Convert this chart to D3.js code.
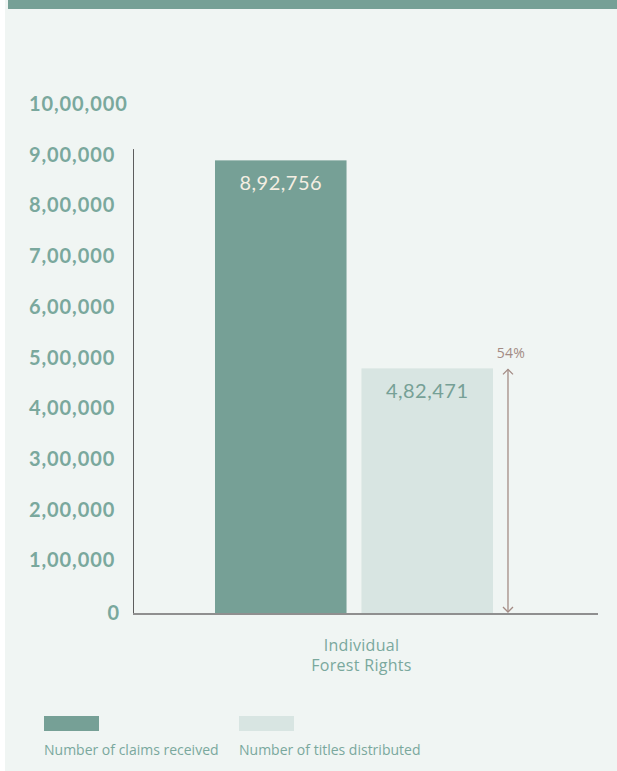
<!DOCTYPE html>
<html>
<head>
<meta charset="utf-8">
<script src="https://cdn.jsdelivr.net/npm/d3@7"></script>
<style>
  html, body { margin: 0; padding: 0; background: #ffffff; }
  svg { display: block; }
  text { font-family: "Lato", "Open Sans", sans-serif; }
  .os { font-family: "Open Sans", "Lato", sans-serif; }
</style>
</head>
<body>
<svg id="chart" width="617" height="771"></svg>
<script>
// Forest rights claims vs. titles
const categories = ["Individual Forest Rights"];
const categoryLines = [["Individual", "Forest Rights"]];
const series = ["Number of claims received", "Number of titles distributed"];
const claimsReceived = [892756];
const titlesDistributed = [482471];
const shareLabels = ["54%"];
const tickValues = [0, 100000, 200000, 300000, 400000, 500000, 600000, 700000, 800000, 900000, 1000000];
const tickLabels = ["0", "1,00,000", "2,00,000", "3,00,000", "4,00,000", "5,00,000", "6,00,000", "7,00,000", "8,00,000", "9,00,000", "10,00,000"];
const valueLabels = [["8,92,756"], ["4,82,471"]];

const colors = ["#76a096", "#d8e5e2"];
const valueColors = ["#f4eee2", "#76a096"];
const tickColor = "#7aa89d";
const arrowColor = "#a38b84";

const svg = d3.select("#chart");

// card background and top band
svg.append("rect").attr("x", 5).attr("y", 0).attr("width", 612).attr("height", 771).attr("fill", "#f0f5f3");
svg.append("rect").attr("x", 8).attr("y", 0).attr("width", 609).attr("height", 9).attr("fill", "#76a096");

const y = d3.scaleLinear().domain([0, 1000000]).range([613, 106]);

const x0 = d3.scaleBand().domain(categories).range([133, 575]).paddingInner(0).paddingOuter(0.295);
const x1 = d3.scaleBand().domain(series).range([0, x0.bandwidth()]).paddingInner(0.102).paddingOuter(0);

const axisX = d3.scaleBand().domain(categories).range([133, 598]);

// y tick labels
const tickG = svg.append("g");
tickG.selectAll("text")
  .data(tickValues)
  .join("text")
  .attr("x", (d, i) => i === 0 ? 120 : 29)
  .attr("y", d => y(d) - (d === 0 ? 0 : 2))
  .attr("dy", "0.35em")
  .attr("text-anchor", (d, i) => i === 0 ? "end" : "start")
  .attr("fill", tickColor)
  .attr("font-weight", 700)
  .attr("font-size", 20)
  .attr("letter-spacing", 0.9)
  .text((d, i) => tickLabels[i]);

// bars
const rows = categories.map((c, i) => ({
  category: c,
  values: [
    { key: series[0], value: claimsReceived[i], label: valueLabels[0][i], idx: 0 },
    { key: series[1], value: titlesDistributed[i], label: valueLabels[1][i], idx: 1 }
  ],
  share: shareLabels[i]
}));

const groups = svg.append("g").selectAll("g")
  .data(rows)
  .join("g")
  .attr("transform", d => `translate(${x0(d.category)},0)`);

groups.selectAll("rect")
  .data(d => d.values)
  .join("rect")
  .attr("x", d => x1(d.key))
  .attr("y", d => y(d.value))
  .attr("width", x1.bandwidth())
  .attr("height", d => y(0) - y(d.value))
  .attr("fill", d => colors[d.idx]);

groups.selectAll("text.value")
  .data(d => d.values)
  .join("text")
  .attr("class", "value")
  .attr("x", d => x1(d.key) + x1.bandwidth() / 2)
  .attr("y", d => y(d.value) + 23)
  .attr("dy", "0.35em")
  .attr("text-anchor", "middle")
  .attr("fill", d => valueColors[d.idx])
  .attr("font-size", 20)
  .attr("letter-spacing", 0.5)
  .text(d => d.label);

// share arrow beside the second bar
const defs = svg.append("defs");
defs.append("marker")
  .attr("id", "chev")
  .attr("viewBox", "-6 -6 12 12")
  .attr("refX", 0).attr("refY", 0)
  .attr("markerWidth", 12).attr("markerHeight", 12)
  .attr("markerUnits", "userSpaceOnUse")
  .attr("orient", "auto-start-reverse")
  .append("path")
  .attr("d", "M-5,-5 L0,0 L-5,5")
  .attr("fill", "none")
  .attr("stroke", arrowColor)
  .attr("stroke-width", 1.3);

groups.each(function(d) {
  const g = d3.select(this);
  const second = d.values[1];
  const ax = x1(second.key) + x1.bandwidth() + 15;
  g.append("line")
    .attr("x1", ax).attr("x2", ax)
    .attr("y1", y(second.value) + 1)
    .attr("y2", y(0) - 1)
    .attr("stroke", arrowColor)
    .attr("stroke-width", 1.3)
    .attr("marker-start", "url(#chev)")
    .attr("marker-end", "url(#chev)");
  g.append("text")
    .attr("class", "os")
    .attr("x", ax + 3)
    .attr("y", y(second.value) - 15)
    .attr("dy", "0.35em")
    .attr("text-anchor", "middle")
    .attr("fill", arrowColor)
    .attr("font-size", 14)
    .attr("letter-spacing", 0.3)
    .text(d.share);
});

// axes lines
svg.append("line")
  .attr("x1", 133.5).attr("x2", 133.5)
  .attr("y1", y(915000)).attr("y2", y(0) + 1)
  .attr("stroke", "#5d5d5d").attr("stroke-width", 1);
svg.append("line")
  .attr("x1", 133).attr("x2", 598)
  .attr("y1", y(0) + 1).attr("y2", y(0) + 1)
  .attr("stroke", "#8f8f8f").attr("stroke-width", 2);

// category label, one text per line
const catG = svg.append("g").selectAll("g")
  .data(categories)
  .join("g");
catG.selectAll("text")
  .data((d, i) => categoryLines[i].map(t => ({ t, c: d })))
  .join("text")
  .attr("class", "os")
  .attr("text-anchor", "middle")
  .attr("fill", tickColor)
  .attr("font-size", 16)
  .attr("letter-spacing", 0.3)
  .attr("x", d => axisX(d.c) + axisX.bandwidth() / 2 - 4)
  .attr("y", (d, j) => 651 + j * 20)
  .text(d => d.t);

// legend
const legend = svg.append("g").selectAll("g")
  .data(series)
  .join("g")
  .attr("transform", (d, i) => `translate(${44 + i * 195},0)`);
legend.append("rect")
  .attr("x", 0).attr("y", 716)
  .attr("width", 55).attr("height", 15)
  .attr("fill", (d, i) => colors[i]);
legend.append("text")
  .attr("class", "os")
  .attr("x", 0).attr("y", 755)
  .attr("fill", tickColor)
  .attr("font-size", 14)
  .text(d => d);
</script>
</body>
</html>
